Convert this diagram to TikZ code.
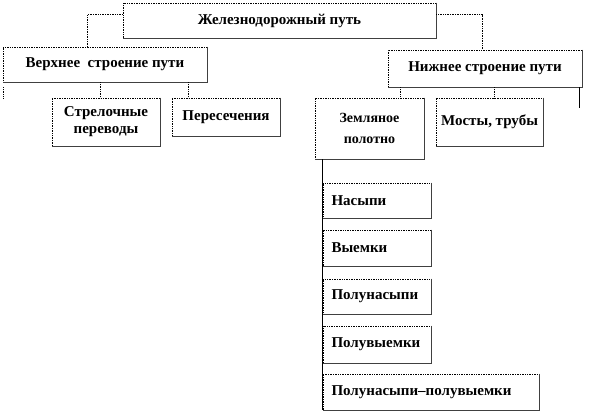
\documentclass[tikz,border=0pt]{standalone}
\usepackage{fontspec}
\setmainfont{Liberation Serif}
\begin{document}
\begin{tikzpicture}[x=1pt,y=-1pt,
  bx/.style={draw=black, densely dotted, line width=0.7pt, inner sep=0pt,
    font=\fontsize{15}{17}\selectfont\bfseries, align=center},
  lbx/.style={bx, align=left, text width=#1},
  edge/.style={draw=black!75, solid, line width=0.8pt},
  conn/.style={draw=black, densely dotted, line width=0.7pt},
  sconn/.style={draw=black, solid, line width=0.7pt}]
\useasboundingbox (0,0) rectangle (595,414);
% boxes
\node[bx, minimum width=313pt, minimum height=35pt] (top) at (279.5,20.5) {Железнодорожный путь};
\node[bx, minimum width=204pt, minimum height=35pt] (up) at (105,64.5) {Верхнее\ \ строение пути};
\node[bx, minimum width=108pt, minimum height=48pt] (strel) at (106,122) {Стрелочные\\переводы};
\node[bx, minimum width=108pt, minimum height=38pt] (peres) at (226,117) {Пересечения};
\node[bx, minimum width=194pt, minimum height=37pt] (low) at (485,68.5) {Нижнее строение пути};
\node[bx, minimum width=109pt, minimum height=61pt, font=\fontsize{14}{21}\selectfont\bfseries] (zem) at (369.5,128.5) {Земляное\\полотно};
\node[bx, minimum width=107pt, minimum height=48pt] (most) at (489.5,122) {Мосты, трубы};
\node[lbx=91pt, minimum width=108pt, minimum height=35pt] (nas) at (377,200.5) {Насыпи};
\node[lbx=91pt, minimum width=108pt, minimum height=36pt] (vyem) at (377,248) {Выемки};
\node[lbx=91pt, minimum width=108pt, minimum height=35pt] (pnas) at (377,296.5) {Полунасыпи};
\node[lbx=91pt, minimum width=108pt, minimum height=37pt] (pvyem) at (377,344.5) {Полувыемки};
\node[lbx=199pt, minimum width=216pt, minimum height=36pt] (pp) at (431,392) {Полунасыпи–полувыемки};
% solid right/bottom edges
\foreach \n in {top,up,strel,peres,low,zem,most,nas,vyem,pnas,pvyem,pp}{
  \draw[edge] (\n.north east) -- (\n.south east) -- (\n.south west);
}
% connectors
\draw[conn] ([yshift=-12pt]top.north west) -| ([xshift=85pt]up.north west);
\draw[conn] ([yshift=-12pt]top.north east) -| ([xshift=95pt]low.north west);
\coordinate (upl1) at ([xshift=1pt,yshift=-5pt]up.south west);
\coordinate (upl2) at ([xshift=1pt,yshift=-16pt]up.south west);
\draw[conn] (upl1) -- (upl2);
\draw[conn] (up.south -| strel.north) ++(-6pt,0) -- ([xshift=-6pt]strel.north);
\draw[conn] ([xshift=17pt]peres.north west |- up.south) -- ([xshift=17pt]peres.north west);
\draw[conn] ([xshift=-24pt]zem.north east |- low.south) -- ([xshift=-24pt]zem.north east);
\draw[conn] ([xshift=5pt]most.north |- low.south) -- ([xshift=5pt]most.north);
\coordinate (lowr) at ([xshift=-3pt,yshift=-21pt]low.south east);
\draw[sconn] ([xshift=-3pt]low.south east) -- (lowr);
\draw[sconn] ([xshift=8pt]zem.south west) -- (pp.south west);
\end{tikzpicture}
\end{document}
